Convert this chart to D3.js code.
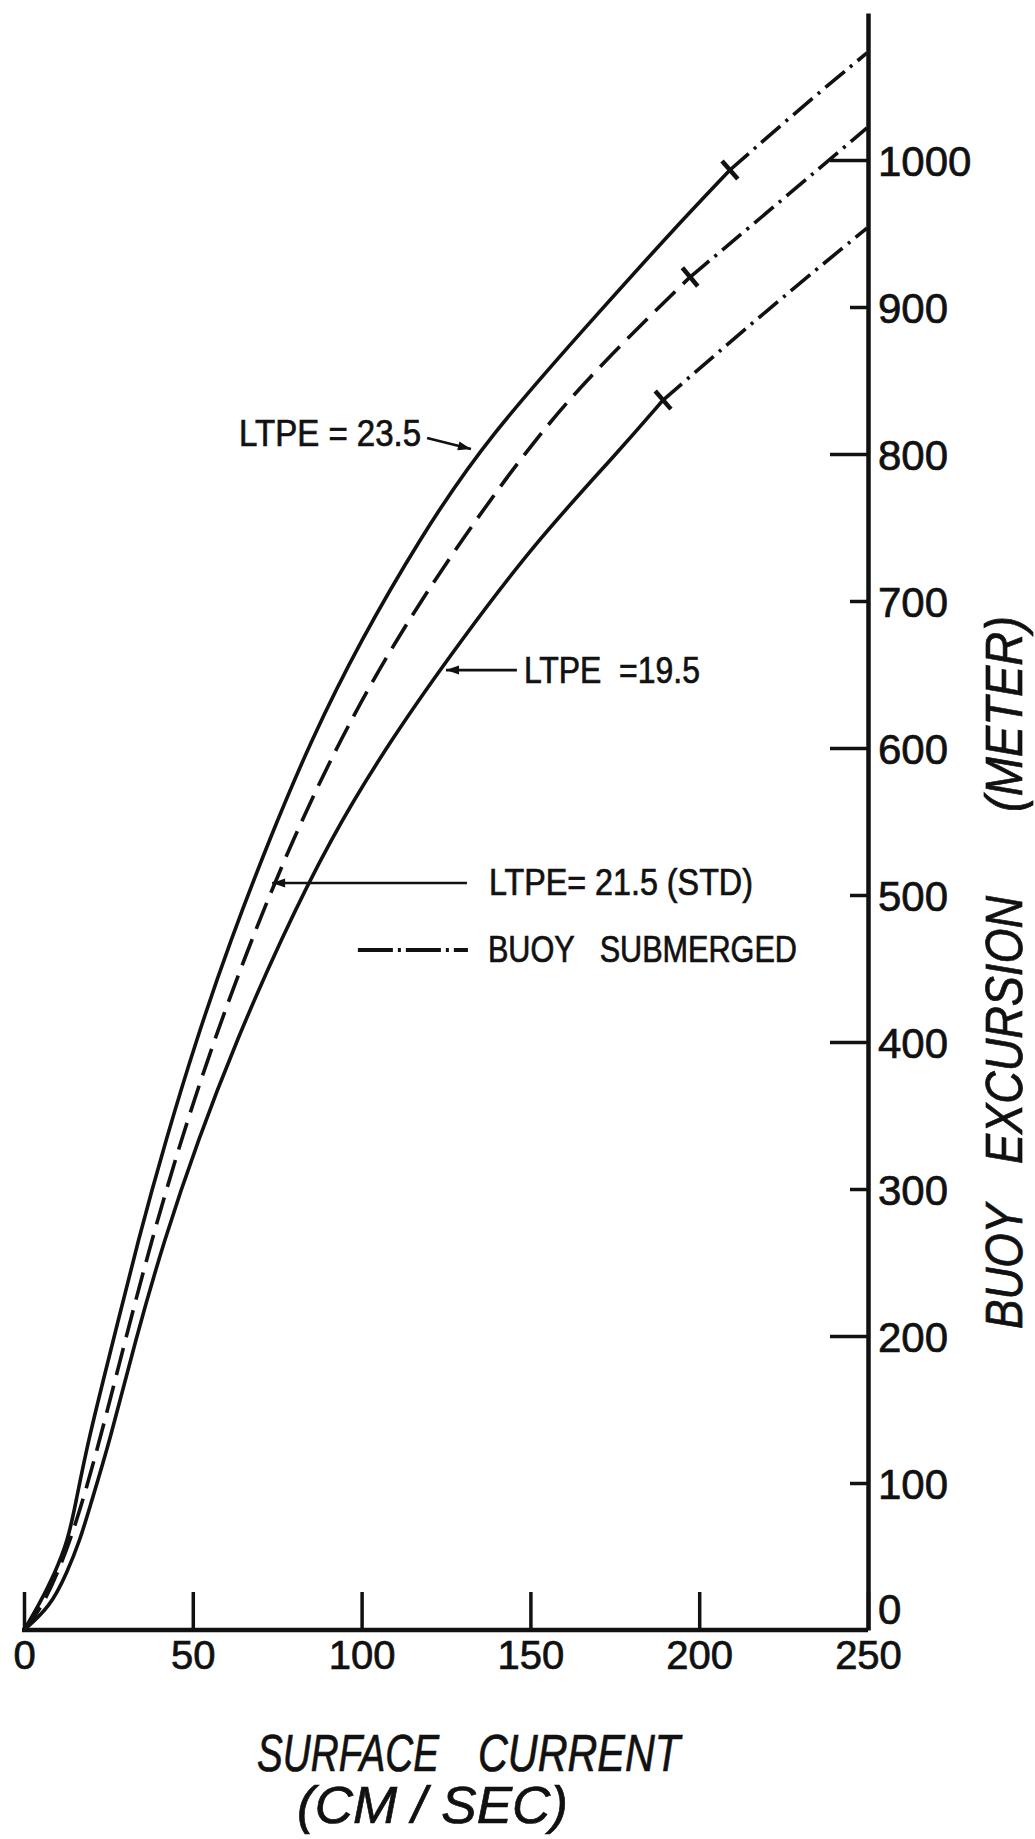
<!DOCTYPE html>
<html><head><meta charset="utf-8">
<script src="https://cdn.jsdelivr.net/npm/d3@7"></script>
<style>
html,body{margin:0;padding:0;background:#fff;}
svg{display:block;}
text{font-family:"Liberation Sans",Arial,sans-serif;fill:#111;stroke:#111;stroke-width:0.7px;}
</style></head><body>
<svg id="chart" width="1035" height="1839"></svg>
<script>
// ---------- data ----------
const currentTicks = [0, 50, 100, 150, 200, 250];
const excursionTicks = [0, 100, 200, 300, 400, 500, 600, 700, 800, 900, 1000];

// LTPE = 23.5 (solid), buoy afloat part
const ltpe235Current   = [0, 4.1, 9.2, 13.0, 15.1, 19.0, 26.5, 33.8, 42.0, 51.0, 61.2, 72.6, 85.0, 99.8, 117.0, 136.5, 173.6, 191.4, 209.1];
const ltpe235Excursion = [0, 15.6, 38.8, 61.2, 83.7, 129.3, 197.3, 265.3, 333.3, 401.4, 469.4, 537.4, 605.4, 673.5, 741.5, 809.5, 904.8, 950.3, 993.2];
// LTPE = 23.5, buoy submerged part
const ltpe235SubCurrent   = [209.1, 232.8, 249.7];
const ltpe235SubExcursion = [993.2, 1040.8, 1072.8];

// LTPE = 21.5 (STD, dashed)
const ltpe215Current   = [0, 5.6, 14.2, 22.5, 30.0, 37.8, 46.5, 56.3, 67.3, 79.5, 93.5, 110.0, 129.5, 151.0, 170.0, 197.3];
const ltpe215Excursion = [0, 15.6, 61.2, 129.3, 197.3, 265.3, 333.3, 401.4, 469.4, 537.4, 605.4, 673.5, 741.5, 809.5, 859.2, 920.4];
const ltpe215SubCurrent   = [197.3, 221.0, 249.7];
const ltpe215SubExcursion = [920.4, 966.0, 1021.8];

// LTPE = 19.5 (solid)
const ltpe195Current   = [0, 7.7, 12.7, 16.6, 19.5, 25.5, 33.0, 41.5, 51.5, 63.0, 76.0, 90.5, 108.5, 129.5, 152.0, 176.5, 189.3];
const ltpe195Excursion = [0, 15.6, 38.8, 61.2, 83.7, 129.3, 197.3, 265.3, 333.3, 401.4, 469.4, 537.4, 605.4, 673.5, 741.5, 802.7, 836.7];
const ltpe195SubCurrent   = [189.3, 220.1, 249.7];
const ltpe195SubExcursion = [836.7, 898.0, 953.7];

const seriesLabels = ["LTPE = 23.5", "LTPE= 21.5 (STD)", "LTPE  =19.5"];
const legendLabel = "BUOY   SUBMERGED";
const xTitleWords = ["SURFACE", "CURRENT", "(CM / SEC)"];
const yTitleWords = ["BUOY", "EXCURSION", "(METER)"];

// ---------- chart ----------
const svg = d3.select("#chart");
const INK = "#111";
const x = d3.scaleLinear().domain([0, 250]).range([24, 868]);
const y = d3.scaleLinear().domain([0, 1100]).range([1630, 13]);

const zip = (a, b) => a.map((v, i) => [v, b[i]]);
const line = d3.line().x(d => x(d[0])).y(d => y(d[1])).curve(d3.curveBasis);

const series = [
  {main: zip(ltpe235Current, ltpe235Excursion), sub: zip(ltpe235SubCurrent, ltpe235SubExcursion), dash: null},
  {main: zip(ltpe215Current, ltpe215Excursion), sub: zip(ltpe215SubCurrent, ltpe215SubExcursion), dash: "28,11"},
  {main: zip(ltpe195Current, ltpe195Excursion), sub: zip(ltpe195SubCurrent, ltpe195SubExcursion), dash: null}
];
const SUB_DASH = "25,7,3,7";

// axes
const xAxis = svg.append("g").attr("transform", `translate(0,${y(0)})`)
  .call(d3.axisBottom(x).tickValues(currentTicks).tickSizeInner(-38).tickSizeOuter(0).tickPadding(11).tickFormat(d3.format("d")));
xAxis.select(".domain").attr("stroke", INK).attr("stroke-width", 4.5).attr("d", `M${x(0)-2},0H${x(250)}`);
xAxis.selectAll(".tick line").attr("stroke", INK).attr("stroke-width", 3.5);
xAxis.selectAll(".tick text").attr("fill", INK).attr("font-size", 40)
  .attr("font-family", "'Liberation Sans', Arial, sans-serif");

const yAxis = svg.append("g").attr("transform", `translate(${x(250)},0)`)
  .call(d3.axisRight(y).tickValues(excursionTicks).tickSizeInner(-38).tickSizeOuter(0).tickPadding(10).tickFormat(d3.format("d")));
yAxis.select(".domain").attr("stroke", INK).attr("stroke-width", 4.5);
yAxis.selectAll(".tick line").attr("stroke", INK).attr("stroke-width", 3.5)
  .attr("x2", d => d === 0 ? 0 : (d % 200 === 0 ? -38 : -18));
yAxis.selectAll(".tick text").attr("fill", INK).attr("font-size", 42)
  .attr("font-family", "'Liberation Sans', Arial, sans-serif")
  .attr("dy", d => d === 0 ? "-0.16em" : "0.36em");

// curves
const curves = svg.append("g").attr("fill", "none").attr("stroke", INK).attr("stroke-width", 3.6)
  .attr("stroke-linecap", "butt");
series.forEach(s => {
  curves.append("path").attr("d", line(s.main)).attr("stroke-dasharray", s.dash);
  curves.append("path").attr("d", line(s.sub)).attr("stroke-dasharray", SUB_DASH);
  // short cross mark where the buoy becomes submerged
  const p = s.sub[0], q = s.sub[1];
  const px = x(p[0]), py = y(p[1]);
  const dx = x(q[0]) - px, dy = y(q[1]) - py, L = Math.hypot(dx, dy);
  const nx = -dy / L, ny = dx / L, h = 12;
  curves.append("line").attr("x1", px - nx * h).attr("y1", py - ny * h)
    .attr("x2", px + nx * h).attr("y2", py + ny * h).attr("stroke-width", 4.5);
});

// annotations (arrows)
function arrow(x1, y1, x2, y2) {
  const g = svg.append("g");
  g.append("line").attr("x1", x1).attr("y1", y1).attr("x2", x2).attr("y2", y2)
    .attr("stroke", INK).attr("stroke-width", 2.6);
  const a = Math.atan2(y2 - y1, x2 - x1), len = 13, w = 4.5;
  const bx = x2 - Math.cos(a) * len, by = y2 - Math.sin(a) * len;
  g.append("path").attr("fill", INK)
    .attr("d", `M${x2},${y2}L${bx - Math.sin(a) * w},${by + Math.cos(a) * w}L${bx + Math.sin(a) * w},${by - Math.cos(a) * w}Z`);
}
function label(txt, xx, yy, anchor, len) {
  svg.append("text").attr("x", xx).attr("y", yy).attr("text-anchor", anchor)
    .attr("font-size", 36).attr("xml:space", "preserve").style("white-space", "pre")
    .attr("textLength", len).attr("lengthAdjust", "spacingAndGlyphs").text(txt);
}
// LTPE = 23.5
arrow(x(119.4), y(810.9), x(132.4), y(803.4));
label(seriesLabels[0], x(119.4) - 6, y(810.9) + 8, "end", 182);
// LTPE = 19.5
arrow(x(146.0), y(653), x(125.0), y(653));
label(seriesLabels[2], x(146.0) + 7, y(653) + 13, "start", 176);
// LTPE = 21.5 (STD)
arrow(x(131.2), y(508.2), x(73.5), y(508.2));
label(seriesLabels[1], x(131.2) + 22, y(508.2) + 12, "start", 264);
// legend: buoy submerged
svg.append("line").attr("x1", x(98.9)).attr("x2", x(131.5)).attr("y1", y(462.6)).attr("y2", y(462.6))
  .attr("stroke", INK).attr("stroke-width", 4).attr("stroke-dasharray", "35,5,3,5");
label(legendLabel, x(131.5) + 20, y(462.6) + 12, "start", 309);

// axis titles
function title(txt, xx, yy, len, rot) {
  svg.append("text").attr("transform", `translate(${xx},${yy})${rot ? " rotate(-90)" : ""}`)
    .attr("font-size", 52).attr("font-style", "italic").attr("xml:space", "preserve").style("white-space", "pre")
    .attr("textLength", len).attr("lengthAdjust", "spacingAndGlyphs").text(txt);
}
title(xTitleWords[0], 257, 1771, 182, false);
title(xTitleWords[1], 478, 1771, 202, false);
title(xTitleWords[2], 297, 1823, 271, false);
title(yTitleWords[0], 1022, 1329, 125, true);
title(yTitleWords[1], 1022, 1164, 268, true);
title(yTitleWords[2], 1022, 812, 196, true);
</script>
</body></html>
